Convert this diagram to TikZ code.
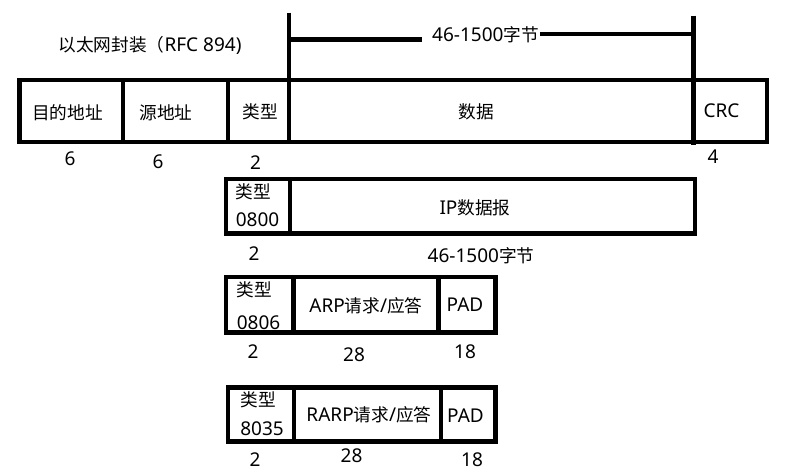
\documentclass[tikz,border=0pt]{standalone}
\usepackage{fontspec}
\setmainfont{Noto Sans}
\newfontfamily\cjk[Scale=0.93]{Noto Sans CJK SC}
\begin{document}
\begin{tikzpicture}[x=1pt,y=-1pt,
  cell/.style={draw=black,line width=4.5pt,inner sep=0pt,outer sep=0pt,anchor=north west},
  txt/.style={inner sep=0pt,font=\fontsize{19}{22}\selectfont},
  bar/.style={line width=4.5pt}]
\useasboundingbox (0,0) rectangle (791,475);
% title
\node[txt] (title) at (150,45) {{\cjk 以太网封装（}RFC 894)};
% top row cells
\node[cell,minimum width=103.5pt,minimum height=62pt] (c1) at (19.5,80) {};
\node[cell,minimum width=105pt,minimum height=62pt] (c2) at (123,80) {};
\node[cell,minimum width=61pt,minimum height=62pt] (c3) at (228,80) {};
\node[cell,minimum width=404.5pt,minimum height=62pt] (c4) at (289,80) {};
\node[cell,minimum width=73.5pt,minimum height=62pt] (c5) at (693.5,80) {};
\node[txt] (t1) at (67.5,113) {\cjk 目的地址};
\node[txt] (t2) at (166,113) {\cjk 源地址};
\node[txt] (t3) at (260,111.5) {\cjk 类型};
\node[txt] (t4) at (476,112) {\cjk 数据};
\node[txt] (t5) at (721.5,110.5) {CRC};
\node[txt] (n1) at (70,159) {6};
\node[txt] (n2) at (158,162) {6};
\node[txt] (n3) at (255.5,163) {2};
\node[txt] (n4) at (713,157) {4};
% span marker
\coordinate (va) at (289,12.7);
\coordinate (vb) at (289,142);
\coordinate (vc) at (693.5,15.7);
\coordinate (vd) at (693.5,145);
\draw[bar] (va) -- (vb);
\draw[bar] (vc) -- (vd);
\node[txt] (span) at (485.5,34.5) {46-1500{\cjk 字节}};
\coordinate (ha) at (289,39.3);
\coordinate (hb) at (421.7,39.3);
\coordinate (hc) at (540,33.8);
\coordinate (hd) at (693.5,33.8);
\draw[bar] (ha) -- (hb);
\draw[bar] (hc) -- (hd);
% IP row
\node[cell,minimum width=64pt,minimum height=54.5pt] (ip1) at (226,179) {};
\node[cell,minimum width=405pt,minimum height=54.5pt] (ip2) at (290,179) {};
\node[txt] (ipa) at (253.5,191.5) {\cjk 类型};
\node[txt] (ipb) at (257.5,219.5) {0800};
\node[txt] (ipc) at (475,207.5) {IP{\cjk 数据报}};
\node[txt] (ipn1) at (254,253.5) {2};
\node[txt] (ipn2) at (481,256) {46-1500{\cjk 字节}};
% ARP row
\node[cell,minimum width=67.5pt,minimum height=55.5pt] (a1) at (226,277) {};
\node[cell,minimum width=144.8pt,minimum height=55.5pt] (a2) at (293.5,277) {};
\node[cell,minimum width=57.2pt,minimum height=55.5pt] (a3) at (438.3,277) {};
\node[txt] (aa) at (254.5,290) {\cjk 类型};
\node[txt] (ab) at (258.5,322.5) {0806};
\node[txt] (ac) at (366,306) {ARP{\cjk 请求}/{\cjk 应答}};
\node[txt] (ad) at (465,305) {PAD};
\node[txt] (an1) at (253,351.5) {2};
\node[txt] (an2) at (354,355) {28};
\node[txt] (an3) at (465,352) {18};
% RARP row
\node[cell,minimum width=66pt,minimum height=54pt] (r1) at (228,387.5) {};
\node[cell,minimum width=147pt,minimum height=54pt] (r2) at (294,387.5) {};
\node[cell,minimum width=54.5pt,minimum height=54pt] (r3) at (441,387.5) {};
\node[txt] (ra) at (258.5,399.5) {\cjk 类型};
\node[txt] (rb) at (262,428.5) {8035};
\node[txt] (rc) at (369,415) {RARP{\cjk 请求}/{\cjk 应答}};
\node[txt] (rd) at (465.5,415.5) {PAD};
\node[txt] (rn1) at (255,459.5) {2};
\node[txt] (rn2) at (351.5,455.5) {28};
\node[txt] (rn3) at (472,460) {18};
\end{tikzpicture}
\end{document}
